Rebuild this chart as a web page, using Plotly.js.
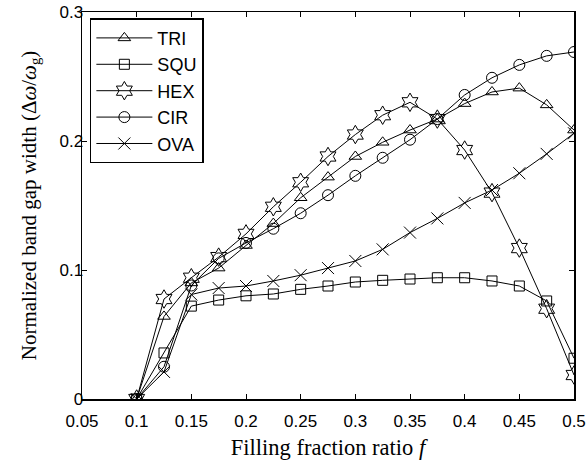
<!DOCTYPE html>
<html>
<head>
<meta charset="utf-8">
<script src="https://cdn.plot.ly/plotly-3.0.1.min.js"></script>
<style>html,body{margin:0;padding:0;background:#fff;}#chart{width:586px;height:464px;}</style>
</head>
<body>
<div id="chart"></div>
<script>
const fillingFraction = [0.1, 0.125, 0.15, 0.175, 0.2, 0.225, 0.25, 0.275, 0.3, 0.325, 0.35, 0.375, 0.4, 0.425, 0.45, 0.475, 0.5];
const seriesNames = ["TRI", "SQU", "HEX", "CIR", "OVA"];
const triValues = [0, 0.064, 0.090, 0.1015, 0.119, 0.136, 0.156, 0.172, 0.188, 0.199, 0.2085, 0.217, 0.229, 0.238, 0.241, 0.228, 0.2085];
const squValues = [0, 0.0357, 0.072, 0.0767, 0.080, 0.0814, 0.085, 0.0876, 0.0907, 0.092, 0.093, 0.094, 0.094, 0.0915, 0.0876, 0.076, 0.0316];
const hexValues = [0, 0.0775, 0.094, 0.110, 0.128, 0.149, 0.168, 0.188, 0.205, 0.220, 0.230, 0.217, 0.193, 0.160, 0.117, 0.070, 0.0186];
const cirValues = [0, 0.025, 0.088, 0.109, 0.121, 0.132, 0.144, 0.158, 0.173, 0.187, 0.201, 0.217, 0.2357, 0.249, 0.259, 0.266, 0.269];
const ovaValues = [0, 0.021, 0.081, 0.086, 0.0876, 0.0915, 0.096, 0.1015, 0.107, 0.116, 0.129, 0.140, 0.152, 0.162, 0.175, 0.190, 0.206];
const xTickVals = [0.05, 0.1, 0.15, 0.2, 0.25, 0.3, 0.35, 0.4, 0.45, 0.5];
const xTickText = ["0.05", "0.1", "0.15", "0.2", "0.25", "0.3", "0.35", "0.4", "0.45", "0.5"];
const yTickVals = [0, 0.1, 0.2, 0.3];
const yTickText = ["0", "0.1", "0.2", "0.3"];

const allValues = [triValues, squValues, hexValues, cirValues, ovaValues];
const symbols = ["triangle-up-open", "square-open", "hexagram-open", "circle-open", "x-thin-open"];
const sizes = [11, 10, 14, 11, 12];

const traces = seriesNames.map((name, i) => ({
  x: fillingFraction,
  y: allValues[i],
  name: name,
  type: "scatter",
  mode: "lines+markers",
  line: {color: "#000", width: 1},
  marker: {symbol: symbols[i], size: sizes[i], color: "#000", line: {color: "#000", width: 1}}
}));

const layout = {
  width: 586, height: 464,
  margin: {l: 82, r: 12, t: 12, b: 65},
  paper_bgcolor: "#fff", plot_bgcolor: "#fff",
  showlegend: true,
  legend: {
    x: 0.016, y: 0.984, xanchor: "left", yanchor: "top",
    bordercolor: "#000", borderwidth: 1.5, bgcolor: "#fff",
    font: {family: "Liberation Sans, Arial, sans-serif", size: 18, color: "#000"},
    tracegroupgap: 0, itemwidth: 56, entrywidth: 127
  },
  xaxis: {
    range: [0.05, 0.5], tickvals: xTickVals, ticktext: xTickText,
    ticks: "inside", ticklen: 5, tickcolor: "#000", mirror: "ticks",
    showline: true, linecolor: "#000", linewidth: 1.5, showgrid: false, zeroline: false,
    ticklabelstandoff: 6,
    tickfont: {family: "Liberation Sans, Arial, sans-serif", size: 17, color: "#000"},
    title: {text: "Filling fraction ratio <i>f</i>", font: {family: "Liberation Serif, Times New Roman, serif", size: 22.5, color: "#000"}, standoff: 9}
  },
  yaxis: {
    range: [0, 0.3], tickvals: yTickVals, ticktext: yTickText,
    ticks: "inside", ticklen: 5, tickcolor: "#000", mirror: "ticks",
    showline: true, linecolor: "#000", linewidth: 1.5, showgrid: false, zeroline: false,
    ticklabelstandoff: -6,
    tickfont: {family: "Liberation Sans, Arial, sans-serif", size: 17, color: "#000"},
    title: {text: "Normalized band gap width (Δ<i>ω</i>/<i>ω</i><sub>g</sub>)", font: {family: "Liberation Serif, Times New Roman, serif", size: 21, color: "#000"}, standoff: 17}
  }
};

Plotly.newPlot("chart", traces, layout, {displayModeBar: false, staticPlot: true});
</script>
</body>
</html>
